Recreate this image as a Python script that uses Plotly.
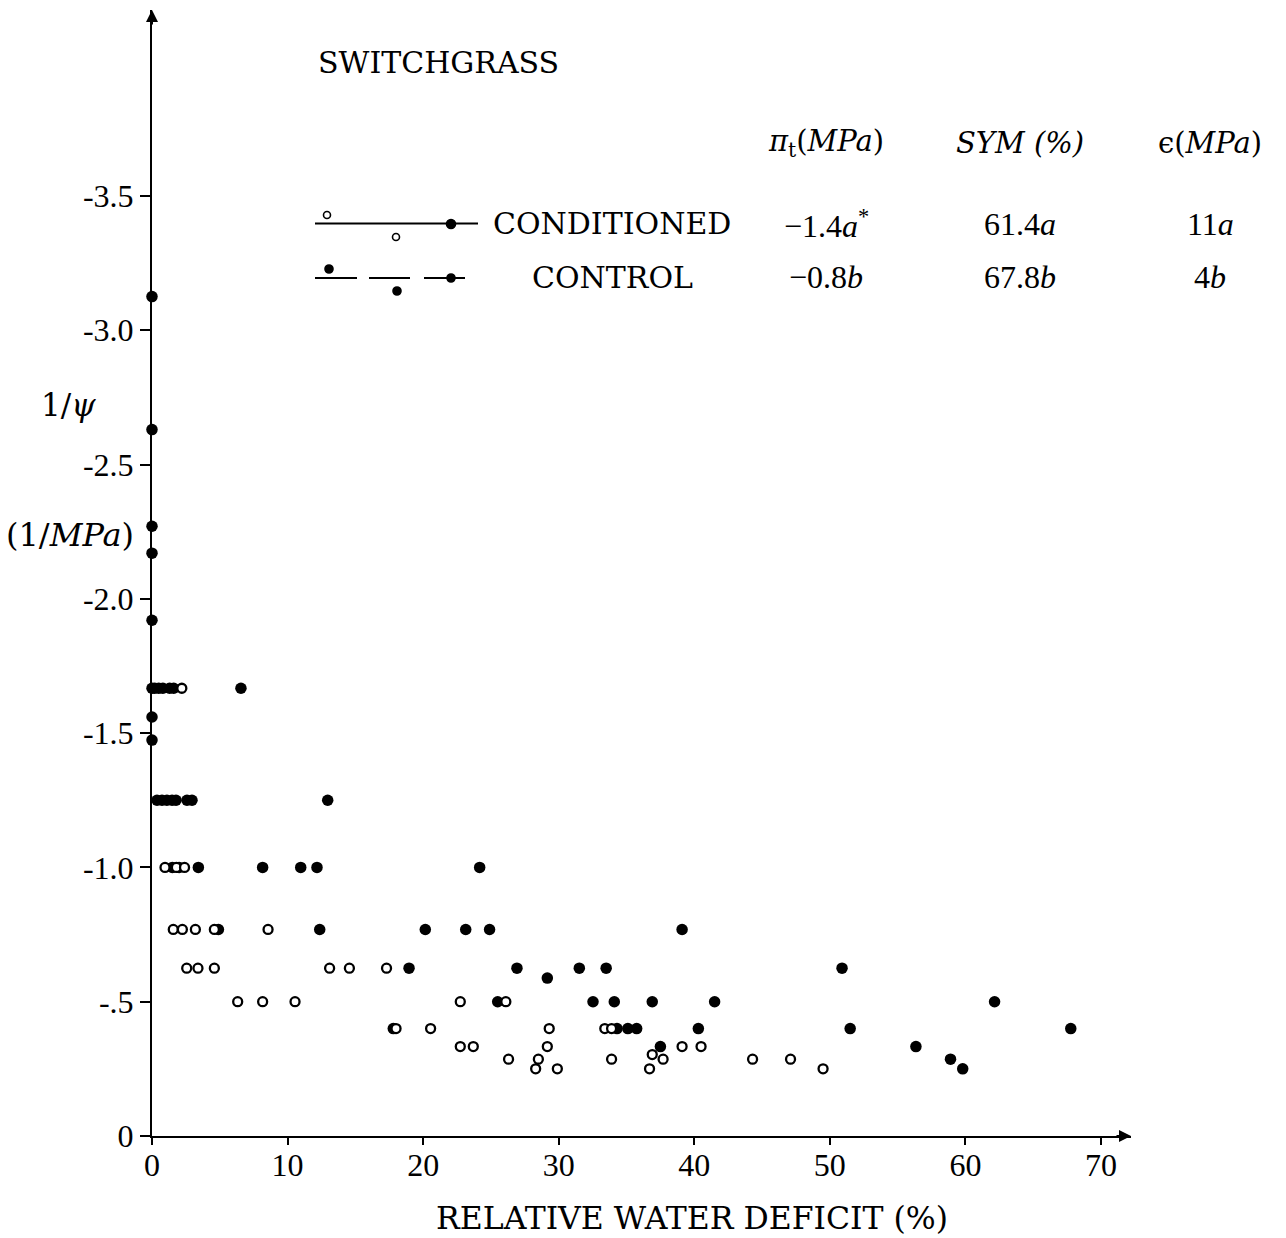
import plotly.graph_objects as go

# ---------------- data ----------------
# CONDITIONED (open circles)
cond_x = [2.2,
          0.96, 1.8, 2.4,
          1.57, 2.24, 3.2, 4.6, 8.56,
          2.56, 3.39, 4.6, 13.1, 14.56, 17.3,
          6.32, 8.16, 10.55, 22.74, 26.1,
          18.0, 20.55, 29.3, 33.4, 33.9,
          22.74, 23.7, 29.16, 39.1, 40.5,
          36.9,
          26.3, 28.5, 33.9, 37.7, 44.3, 47.1,
          28.3, 29.9, 36.7, 49.5]
cond_y = [-1.667,
          -1.0, -1.0, -1.0,
          -0.769, -0.769, -0.769, -0.769, -0.769,
          -0.625, -0.625, -0.625, -0.625, -0.625, -0.625,
          -0.5, -0.5, -0.5, -0.5, -0.5,
          -0.4, -0.4, -0.4, -0.4, -0.4,
          -0.333, -0.333, -0.333, -0.333, -0.333,
          -0.303,
          -0.286, -0.286, -0.286, -0.286, -0.286, -0.286,
          -0.25, -0.25, -0.25, -0.25]

# CONTROL (filled circles)
ctrl_x = [0, 0, 0, 0, 0, 0, 0, 0,
          0.2, 0.5, 0.8, 1.3, 1.6, 6.56,
          0.37, 0.74, 1.1, 1.48, 1.77, 2.58, 2.95, 12.96,
          1.5, 2.0, 3.42, 8.16, 10.97, 12.17, 24.17,
          4.9, 12.37, 20.16, 23.14, 24.9, 39.1,
          18.96, 26.92, 31.52, 33.5, 50.9,
          29.16,
          25.5, 32.53, 34.1, 36.9, 41.5, 62.15,
          17.8, 34.3, 35.1, 35.75, 40.3, 51.5, 67.77,
          37.5, 56.35,
          58.9,
          59.8]
ctrl_y = [-3.125, -2.63, -2.27, -2.17, -1.92, -1.667, -1.56, -1.474,
          -1.667, -1.667, -1.667, -1.667, -1.667, -1.667,
          -1.25, -1.25, -1.25, -1.25, -1.25, -1.25, -1.25, -1.25,
          -1.0, -1.0, -1.0, -1.0, -1.0, -1.0, -1.0,
          -0.769, -0.769, -0.769, -0.769, -0.769, -0.769,
          -0.625, -0.625, -0.625, -0.625, -0.625,
          -0.588,
          -0.5, -0.5, -0.5, -0.5, -0.5, -0.5,
          -0.4, -0.4, -0.4, -0.4, -0.4, -0.4, -0.4,
          -0.333, -0.333,
          -0.286,
          -0.25]

x_ticks = [0, 10, 20, 30, 40, 50, 60, 70]
y_ticks = [0, -0.5, -1.0, -1.5, -2.0, -2.5, -3.0, -3.5]
y_tick_text = ["0", "-.5", "-1.0", "-1.5", "-2.0", "-2.5", "-3.0", "-3.5"]

table_header = ["<i>π</i><sub>t</sub>(<i>MPa</i>)", "<i>SYM (%)</i>", "ϵ(<i>MPa</i>)"]
row_names = ["CONDITIONED", "CONTROL"]
row_values = [["−1.4<i>a</i><sup>*</sup>", "61.4<i>a</i>", "11<i>a</i>"],
              ["−0.8<i>b</i>", "67.8<i>b</i>", "4<i>b</i>"]]

# ---------------- layout geometry ----------------
W, H = 1286, 1238
L, R, T, B = 152, 1131, 10, 1136   # plot area in pixels
NUMFONT = "Liberation Serif"
TXTFONT = "DejaVu Serif"


def px(xp):
    return (xp - L) / (R - L)


def py(yp):
    return (B - yp) / (B - T)


fig = go.Figure()
fig.add_trace(go.Scatter(x=ctrl_x, y=ctrl_y, mode="markers", cliponaxis=False,
                         marker=dict(symbol="circle", size=11.5, color="black",
                                     line=dict(width=0)),
                         name="CONTROL", showlegend=False))
fig.add_trace(go.Scatter(x=cond_x, y=cond_y, mode="markers", cliponaxis=False,
                         marker=dict(symbol="circle", size=9, color="white",
                                     line=dict(width=2.3, color="black")),
                         name="CONDITIONED", showlegend=False))

ann = []
shapes = []


def text(xp, yp, s, family, size, xanchor="center"):
    ann.append(dict(x=px(xp), y=py(yp), xref="paper", yref="paper",
                    xanchor=xanchor, yanchor="middle", text=s, showarrow=False,
                    font=dict(family=family, size=size, color="black")))


# axis arrows
ann.append(dict(x=1, y=0, xref="paper", yref="paper", ax=-16, ay=0,
                showarrow=True, arrowhead=2, arrowsize=1.2, arrowwidth=2,
                arrowcolor="black", text=""))
ann.append(dict(x=0, y=1, xref="paper", yref="paper", ax=0, ay=16,
                showarrow=True, arrowhead=2, arrowsize=1.2, arrowwidth=2,
                arrowcolor="black", text=""))

# axis titles
text(692, 1218, "RELATIVE WATER DEFICIT (%)", TXTFONT, 31.5)
text(68, 405, "1/<i>ψ</i>", TXTFONT, 31)
text(70, 535, "(1/<i>MPa</i>)", TXTFONT, 32)

# title
text(316, 63, "SWITCHGRASS", TXTFONT, 30, xanchor="left")

# table
col_x = [826, 1020, 1210]
for cx, t in zip(col_x, table_header):
    text(cx, 143, t, TXTFONT, 29)
for ry, name, vals in zip([224, 277], row_names, row_values):
    text(612, ry, name, TXTFONT, 30)
    for cx, t in zip(col_x, vals):
        text(cx, ry, t, NUMFONT, 32)


# legend samples
def line(x0, x1, y):
    shapes.append(dict(type="line", xref="paper", yref="paper",
                       x0=px(x0), x1=px(x1), y0=py(y), y1=py(y),
                       line=dict(color="black", width=2)))


def dot(cx, cy, d, filled):
    shapes.append(dict(type="circle", xref="paper", yref="paper",
                       x0=px(cx - d / 2), x1=px(cx + d / 2),
                       y0=py(cy + d / 2), y1=py(cy - d / 2),
                       fillcolor="black" if filled else "white",
                       line=dict(color="black", width=1.6)))


line(315, 478, 223.5)
dot(327, 215, 7, False)
dot(396, 237, 7, False)
dot(451, 224, 9, True)
line(315, 357, 278)
line(369, 410, 278)
line(424, 465, 278)
dot(329, 269, 8, True)
dot(397, 291, 8, True)
dot(451, 278, 8, True)

fig.update_layout(
    width=W, height=H,
    margin=dict(l=L, r=W - R, t=T, b=H - B),
    plot_bgcolor="white", paper_bgcolor="white",
    font=dict(family=NUMFONT, size=32, color="black"),
    annotations=ann, shapes=shapes,
    xaxis=dict(range=[0, (R - L) / 13.557], tickvals=x_ticks,
               ticktext=[str(v) for v in x_ticks],
               showline=True, linecolor="black", linewidth=2,
               ticks="outside", ticklen=7, tickwidth=2, tickcolor="black",
               ticklabelstandoff=-7,
               showgrid=False, zeroline=False,
               tickfont=dict(family=NUMFONT, size=32, color="black")),
    yaxis=dict(range=[0, -(B - T) / 268.6], tickvals=y_ticks,
               ticktext=y_tick_text,
               showline=True, linecolor="black", linewidth=2,
               ticks="outside", ticklen=10, tickwidth=2, tickcolor="black",
               showgrid=False, zeroline=False,
               tickfont=dict(family=NUMFONT, size=32, color="black")),
)

fig.write_html("out.html",
               config={"displayModeBar": False},
               post_script="document.body.style.margin='0';"
                           "document.body.style.overflow='hidden';")
